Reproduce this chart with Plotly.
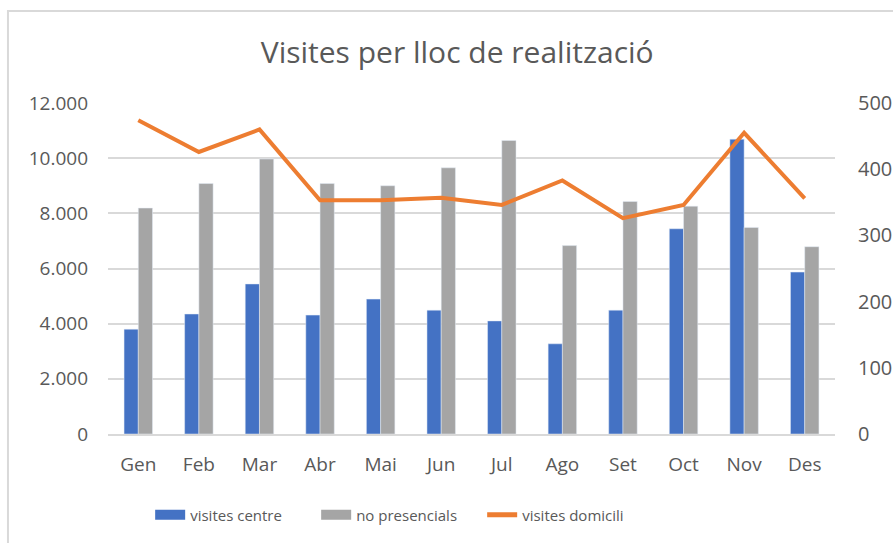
import plotly.graph_objects as go

mesos = ['Gen', 'Feb', 'Mar', 'Abr', 'Mai', 'Jun', 'Jul', 'Ago', 'Set', 'Oct', 'Nov', 'Des']
visites_centre = [3800, 4350, 5440, 4310, 4890, 4490, 4100, 3270, 4490, 7440, 10690, 5870]
no_presencials = [8190, 9080, 9970, 9080, 9000, 9650, 10640, 6830, 8430, 8260, 7490, 6790]
visites_domicili = [474, 426, 460, 353, 353, 357, 346, 383, 326, 346, 455, 356]

txt = '#595959'
fnt = 'Open Sans'
blau, gris, taronja = '#4472C4', '#A5A5A5', '#ED7D31'

fig = go.Figure()
fig.add_trace(go.Bar(x=mesos, y=visites_centre, name='visites centre', marker_color=blau, showlegend=False))
fig.add_trace(go.Bar(x=mesos, y=no_presencials, name='no presencials', marker_color=gris, showlegend=False))
fig.add_trace(go.Scatter(x=mesos, y=visites_domicili, name='visites domicili', mode='lines',
                         line=dict(color=taronja, width=4), yaxis='y2', showlegend=False))

# legend entries with wide swatches like excel
for nom, col, w in [('visites centre', blau, 10), ('no presencials', gris, 10), ('visites domicili', taronja, 5)]:
    fig.add_trace(go.Scatter(x=[None], y=[None], name=nom, mode='lines', line=dict(color=col, width=w)))

fig.update_layout(
    width=893, height=543,
    margin=dict(l=108, r=58, t=103, b=109),
    paper_bgcolor='white', plot_bgcolor='white',
    separators=',.',
    barmode='group', bargap=0.53, bargroupgap=0,
    title=dict(text='Visites per lloc de realització', x=0.512, xanchor='center',
               y=0.904, yanchor='middle', font=dict(family=fnt, size=30, color=txt)),
    font=dict(family=fnt, size=19, color=txt),
    xaxis=dict(showgrid=False, showline=True, linecolor='#D9D9D9', linewidth=2, automargin=False,
               ticks='', tickfont=dict(size=19, color=txt), ticklabelstandoff=12),
    yaxis=dict(range=[0, 12000], dtick=2000, tickformat=',d', showgrid=True, automargin=False,
               gridcolor='#D9D9D9', gridwidth=2, zeroline=False, ticks='',
               tickfont=dict(size=19, color=txt), ticklabelstandoff=19),
    yaxis2=dict(range=[0, 500], dtick=100, overlaying='y', side='right', showgrid=False,
                zeroline=False, ticks='', tickfont=dict(size=20, color=txt), automargin=False,
                ticklabelstandoff=22),
    legend=dict(orientation='h', x=0.058, xanchor='left', y=-0.245, yanchor='middle',
                font=dict(size=15, color=txt), traceorder='normal', entrywidth=121),
    shapes=[dict(type='rect', xref='paper', yref='paper', x0=-0.1376, x1=1.2,
                 y0=-0.5, y1=1.278, line=dict(color='#D9D9D9', width=2), layer='below')],
)

fig.write_html('out.html', config={'displayModeBar': False},
               post_script="document.body.style.margin='0';")
